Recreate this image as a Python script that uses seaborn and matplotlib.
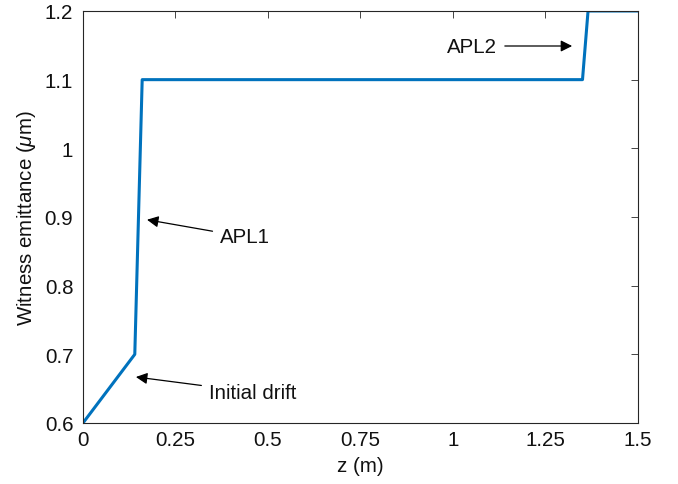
import matplotlib
matplotlib.use("Agg")
import matplotlib.pyplot as plt
import seaborn as sns
import pandas as pd

# Witness emittance along the stage
z_m = [0.0, 0.14, 0.16, 1.35, 1.365, 1.5]
emittance_um = [0.6, 0.7, 1.1, 1.1, 1.2, 1.2]

x_ticks = [0, 0.25, 0.5, 0.75, 1, 1.25, 1.5]
x_tick_labels = ["0", "0.25", "0.5", "0.75", "1", "1.25", "1.5"]
y_ticks = [0.6, 0.7, 0.8, 0.9, 1.0, 1.1, 1.2]
y_tick_labels = ["0.6", "0.7", "0.8", "0.9", "1", "1.1", "1.2"]

sns.set_style("white")
plt.rcParams["font.family"] = ["Liberation Sans", "DejaVu Sans"]
plt.rcParams["mathtext.fontset"] = "custom"
plt.rcParams["mathtext.it"] = "Liberation Sans:italic"

FS = 14.8
TXT = "#111111"

df = pd.DataFrame({"z": z_m, "eps": emittance_um})

fig = plt.figure(figsize=(6.78, 4.85), dpi=100)
ax = fig.add_axes([0.1224, 0.1258, 0.8186, 0.8495])

sns.lineplot(data=df, x="z", y="eps", ax=ax, color="#0072BD", linewidth=2.2,
             sort=False, estimator=None)

ax.set_xlim(0, 1.5)
ax.set_ylim(0.6, 1.2)
ax.set_xticks(x_ticks)
ax.set_xticklabels(x_tick_labels)
ax.set_yticks(y_ticks)
ax.set_yticklabels(y_tick_labels)
ax.set_xlabel("z (m)", fontsize=FS, color=TXT, labelpad=5)
ax.set_ylabel(r"Witness emittance ($\mu$m)", fontsize=FS, color=TXT, labelpad=5)

ax.tick_params(direction="in", length=5, width=0.6, labelsize=FS,
               color="#262626", labelcolor=TXT, top=True, right=True)
ax.tick_params(axis="x", pad=5)
ax.tick_params(axis="y", pad=7)
for s in ax.spines.values():
    s.set_color("#262626")
    s.set_linewidth(0.8)
    s.set_visible(True)

arrow = dict(arrowstyle="-|>", color="black", lw=0.9, mutation_scale=17,
             shrinkA=3, shrinkB=0)
ax.annotate("Initial drift", xy=(0.143, 0.667), xytext=(0.34, 0.645),
            fontsize=FS, color=TXT, va="center", ha="left", arrowprops=arrow)
ax.annotate("APL1", xy=(0.173, 0.896), xytext=(0.37, 0.871),
            fontsize=FS, color=TXT, va="center", ha="left", arrowprops=arrow)
ax.annotate("APL2", xy=(1.322, 1.149), xytext=(1.12, 1.149),
            fontsize=FS, color=TXT, va="center", ha="right", arrowprops=arrow)

fig.savefig("out.png", dpi=100)
